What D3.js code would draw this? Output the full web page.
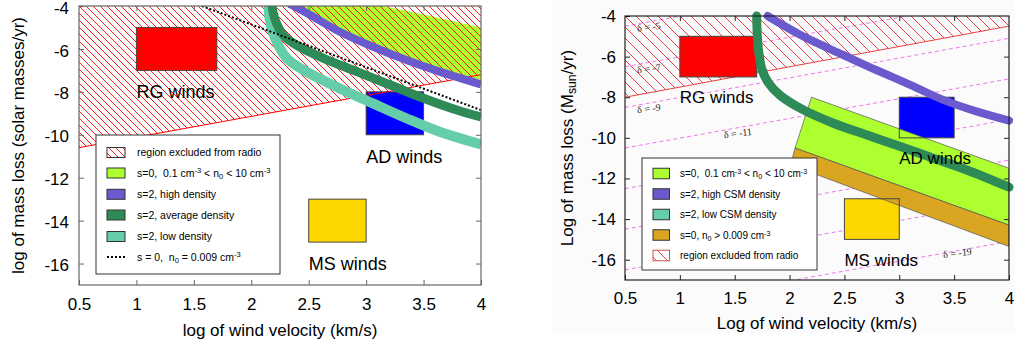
<!DOCTYPE html>
<html>
<head>
<meta charset="utf-8">
<script src="https://cdn.jsdelivr.net/npm/d3@7"></script>
<style>
	body { margin: 0; background: #fff; }
	svg { display: block; font-family: 'Liberation Sans', Arial, Helvetica, sans-serif; }
	text { white-space: pre; }
</style>
</head>
<body>
<svg id="chart" width="1015" height="347"></svg>
<script>

// axis ticks, shared by both panels (log wind velocity, log mass loss)
const velTicks = [0.5, 1, 1.5, 2, 2.5, 3, 3.5, 4];
const lossTicks = [-4, -6, -8, -10, -12, -14, -16];

// wind regimes
const regimeNames = ['RG winds', 'AD winds', 'MS winds'];
const regimeVel = [[1, 1.7], [3, 3.5], [2.5, 3]];
const regimeLoss = [[-5, -7], [-8, -10], [-13, -15]];
const regimeLabelLoss = [-8, -11, -16];

// region excluded from radio: lower edge, read at v = 0.5 and v = 4
const excludedVel = [0.5, 4];
const leftExcludedLoss = [-10.6, -7.2];
const rightExcludedLoss = [-8, -4.5];

// left panel curves [log v, log Mdot]
const leftHigh = [[2.33, -3.9], [2.37, -4], [2.54, -4.5], [2.77, -5.2], [3.06, -5.9], [3.35, -6.52], [3.64, -7.06], [4.0, -7.65]];
const leftAverage = [[2.18, -3.9], [2.19, -4.3], [2.22, -4.81], [2.29, -5.43], [2.42, -5.9], [2.63, -6.44], [2.92, -7.06], [3.21, -7.68], [3.5, -8.3], [3.79, -8.85], [4.0, -9.17]];
const leftLow = [[2.15, -3.9], [2.16, -4.6], [2.2, -5.4], [2.31, -6.44], [2.48, -7.06], [2.77, -7.84], [3.06, -8.54], [3.35, -9.23], [3.64, -9.86], [4.0, -10.45]];
const leftDotted = [[1.57, -4], [4.0, -8.85]];
const leftUniformUpper = [[2.23, -4], [3.15, -4], [3.5, -4.4], [3.75, -4.7], [4.0, -5.0]];
const leftUniformLower = [[2.3, -4], [2.54, -4.45], [2.77, -5.1], [3.06, -5.8], [3.35, -6.4], [3.64, -6.95], [4.0, -7.45]];

// right panel curves and bands
const rightHigh = [[1.8, -4], [1.93, -4.42], [2.07, -4.85], [2.19, -5.18], [2.49, -5.92], [2.79, -6.66], [3.1, -7.39], [3.4, -8.13], [3.71, -8.71], [4.0, -9.15]];
const rightLow = [[1.7, -4], [1.705, -4.85], [1.72, -5.83], [1.75, -6.66], [1.81, -7.31], [1.91, -7.89], [2.1, -8.55], [2.4, -9.28], [2.7, -9.85], [3.01, -10.43], [3.31, -11.0], [3.61, -11.57], [4.0, -12.43]];
const rightUniformBand = [[2.2, -8], [4.0, -11.5], [4.0, -14.3], [2.05, -10.5]];
const rightDenseBand = [[2.05, -10.5], [4.0, -14.3], [4.0, -15.35], [2.01, -11.33]];

// delta lines, read at v = 0.5 and v = 4
const deltaValues = [-5, -7, -9, -11, -13, -15, -17, -19];
const deltaLossAtLeft = [-4.5, -6.5, -8.5, -10.5, -12.5, -14.5, -16.5, -18.5];
const deltaLossAtRight = [-1.1, -3.1, -5.1, -7.1, -9.1, -11.1, -13.1, -15.1];
const deltaLabelValues = [-5, -7, -9, -11, -19];
const deltaLabelVel = [0.61, 0.61, 0.61, 1.4, 3.4];
const deltaLabelLoss = [-4.6, -6.66, -8.62, -9.85, -15.75];

// legends (gnuplot style markup: ^{} super, _{} sub)
const leftLegendKeys = ['hatch', 'uniform', 'high', 'average', 'low', 'dotted'];
const leftLegendLabels = ['region excluded from radio', 's=0,  0.1 cm^{-3} < n_{0} < 10 cm^{-3}', 's=2, high density', 's=2, average density', 's=2, low density', 's = 0,  n_{0} = 0.009 cm^{-3}'];
const rightLegendKeys = ['uniform', 'high', 'low', 'dense', 'hatch'];
const rightLegendLabels = ['s=0,  0.1 cm^{-3} < n_{0} < 10 cm^{-3}', 's=2, high CSM density', 's=2, low CSM density', 's=0, n_{0} > 0.009 cm^{-3}', 'region excluded from radio'];


window.app = window.app || {};

window.app.windChart = (function() {

	'use strict';

	var svg,
		defs,
		colors = {
			uniform: '#adff2f',
			high: '#6a5acd',
			average: '#2e8b57',
			low: '#66cdaa',
			dense: '#daa520',
			regimes: ['#ff0000', '#0000ff', '#ffd700'],
			delta: '#ee77ee'
		},
		panels = {
			left: {
				left: 79, top: 6, width: 402, height: 279,
				frame: '#666', padX: 13, padY: 10, tickDy: '0.42em',
				hatchId: 'hatchLeft', hatchStep: 7, hatchColor: '#ff0000',
				titleX: 336, titleY: 18, labelSize: 18, legendSize: 10.5,
				legend: { x: 96, y: 135, w: 184, h: 139, swX: 11, swW: 18, swH: 10, textX: 41, rows: [17.5, 38, 59.3, 80, 101.5, 122] }
			},
			right: {
				left: 625, top: 16, width: 384, height: 264,
				frame: '#222', padX: 12, padY: 9, tickDy: '0.32em',
				hatchId: 'hatchRight', hatchStep: 11, hatchColor: '#e82a2a',
				titleX: 329, titleY: 567, labelSize: 17, legendSize: 10,
				legend: { x: 642, y: 158, w: 175, h: 112, swX: 11, swW: 16.5, swH: 10.5, textX: 38, rows: [15.5, 36, 56.5, 77, 97.5] }
			}
		};


	/**
	* write text with gnuplot style ^{..} and _{..} into tspans
	* @returns {undefined}
	*/
	const appendRich = function(textSel, str) {
		let re = /([\^_])\{([^}]*)\}/g,
			last = 0,
			m;

		while ((m = re.exec(str)) !== null) {
			if (m.index > last) {
				textSel.append('tspan').text(str.slice(last, m.index));
			}
			textSel.append('tspan')
				.attr('baseline-shift', m[1] === '^' ? '45%' : '-25%')
				.attr('font-size', '72%')
				.text(m[2]);
			last = re.lastIndex;
		}
		if (last < str.length) {
			textSel.append('tspan').text(str.slice(last));
		}
	};


	/**
	* one diagonal hatch pattern (top-left to bottom-right), integer tile
	* so the 1px lines stay sharp like gnuplot output
	* @returns {undefined}
	*/
	const addHatch = function(id, step, color) {
		let s = step;
		defs.append('pattern')
			.attr('id', id)
			.attr('patternUnits', 'userSpaceOnUse')
			.attr('width', s)
			.attr('height', s)
			.append('path')
			.attr('d', 'M0,0L' + s + ',' + s + 'M-1,' + (s - 1) + 'L1,' + (s + 1) + 'M' + (s - 1) + ',-1L' + (s + 1) + ',1')
			.attr('stroke', color)
			.attr('stroke-width', 0.9)
			.attr('fill', 'none');
	};


	/**
	* create panel group, scales and clip
	* @returns {object}
	*/
	const createPanel = function(name) {
		let p = panels[name];

		defs.append('clipPath').attr('id', 'clip-' + name)
			.append('rect').attr('width', p.width).attr('height', p.height);

		let g = svg.append('g')
			.attr('transform', 'translate(' + p.left + ',' + p.top + ')');

		return {
			p: p,
			g: g,
			x: d3.scaleLinear().domain([0.5, 4]).range([0, p.width]),
			y: d3.scaleLinear().domain([-17, -4]).range([p.height, 0]),
			clip: 'url(#clip-' + name + ')'
		};
	};


	/**
	* axes with inward ticks on all four sides plus frame and titles
	* @returns {undefined}
	*/
	const drawAxes = function(c, xTitle, yTitle) {
		let p = c.p,
			fmt = function(d) { return String(d); };

		let styleAxis = function(sel) {
			sel.select('.domain').remove();
			sel.selectAll('line').attr('stroke', p.frame);
			sel.selectAll('text').attr('fill', '#000').attr('font-size', 17)
				.attr('font-family', "'Liberation Sans', Arial, sans-serif");
		};

		c.g.append('g')
			.attr('class', 'axis axis--x')
			.attr('transform', 'translate(0,' + p.height + ')')
			.call(d3.axisBottom(c.x).tickValues(velTicks).tickSize(-5).tickPadding(p.padX).tickFormat(fmt))
			.call(styleAxis);

		c.g.append('g')
			.attr('class', 'axis axis--y')
			.call(d3.axisLeft(c.y).tickValues(lossTicks).tickSize(-5).tickPadding(p.padY).tickFormat(fmt))
			.call(styleAxis)
			.selectAll('text').attr('dy', p.tickDy);

		c.g.append('g')
			.call(d3.axisTop(c.x).tickValues(velTicks.slice(1, -1)).tickSize(-5).tickFormat(''))
			.call(styleAxis);

		c.g.append('g')
			.attr('transform', 'translate(' + p.width + ',0)')
			.call(d3.axisRight(c.y).tickValues(lossTicks.slice(1)).tickSize(-5).tickFormat(''))
			.call(styleAxis);

		c.g.append('rect')
			.attr('width', p.width)
			.attr('height', p.height)
			.attr('fill', 'none')
			.attr('stroke', p.frame)
			.attr('stroke-width', 1.2);

		// titles, in page coords
		let xt = svg.append('text')
			.attr('x', p.left + p.width / 2)
			.attr('y', p.titleX)
			.attr('text-anchor', 'middle')
			.attr('font-size', 17);
		appendRich(xt, xTitle);

		let yt = svg.append('text')
			.attr('transform', 'translate(' + p.titleY + ',' + (p.top + p.height / 2) + ') rotate(-90)')
			.attr('text-anchor', 'middle')
			.attr('dy', '0.35em')
			.attr('font-size', 17);
		appendRich(yt, yTitle);
	};


	/**
	* hatched region excluded from radio
	* @returns {undefined}
	*/
	const drawExcluded = function(c, edgeLoss, lineColor) {
		let pts = [[excludedVel[0], -4], [excludedVel[1], -4], [excludedVel[1], edgeLoss[1]], [excludedVel[0], edgeLoss[0]]];

		c.g.append('path')
			.attr('clip-path', c.clip)
			.attr('d', d3.line().x(d => c.x(d[0])).y(d => c.y(d[1])).curve(d3.curveLinearClosed)(pts))
			.attr('fill', 'url(#' + c.p.hatchId + ')');

		c.g.append('line')
			.attr('x1', c.x(excludedVel[0])).attr('y1', c.y(edgeLoss[0]))
			.attr('x2', c.x(excludedVel[1])).attr('y2', c.y(edgeLoss[1]))
			.attr('stroke', lineColor)
			.attr('stroke-width', 1);
	};


	/**
	* wind regime boxes; mode 'full' = fill and outline, 'fill', 'outline'
	* @returns {undefined}
	*/
	const drawRegimes = function(c, mode) {
		c.g.append('g')
			.selectAll('rect')
			.data(regimeNames)
			.enter()
			.append('rect')
			.attr('x', (d, i) => c.x(regimeVel[i][0]))
			.attr('width', (d, i) => c.x(regimeVel[i][1]) - c.x(regimeVel[i][0]))
			.attr('y', (d, i) => c.y(regimeLoss[i][0]))
			.attr('height', (d, i) => c.y(regimeLoss[i][1]) - c.y(regimeLoss[i][0]))
			.attr('fill', mode === 'outline' ? 'none' : (d, i) => colors.regimes[i])
			.attr('stroke', mode === 'fill' ? 'none' : '#444')
			.attr('stroke-width', 1);
	};


	const drawRegimeLabels = function(c) {
		c.g.append('g')
			.selectAll('text')
			.data(regimeNames)
			.enter()
			.append('text')
			.attr('x', (d, i) => c.x(regimeVel[i][0]))
			.attr('y', (d, i) => c.y(regimeLabelLoss[i]))
			.attr('dy', '0.36em')
			.attr('font-size', c.p.labelSize)
			.text(d => d);
	};


	/**
	* thick curve through read points
	* @returns {undefined}
	*/
	const drawCurve = function(c, pts, color, width, cap, clipped) {
		let line = d3.line()
			.x(d => c.x(d[0]))
			.y(d => c.y(d[1]))
			.curve(d3.curveCatmullRom.alpha(0.5));

		c.g.append('path')
			.attr('clip-path', clipped ? c.clip : null)
			.attr('d', line(pts))
			.attr('fill', 'none')
			.attr('stroke', color)
			.attr('stroke-width', width)
			.attr('stroke-linecap', cap)
			.attr('stroke-linejoin', 'round');
	};


	const drawPolygon = function(c, pts, fill, stroke) {
		c.g.append('path')
			.attr('clip-path', c.clip)
			.attr('d', d3.line().x(d => c.x(d[0])).y(d => c.y(d[1])).curve(d3.curveLinearClosed)(pts))
			.attr('fill', fill)
			.attr('stroke', stroke || 'none')
			.attr('stroke-width', 0.7);
	};


	/**
	* legend box with swatches
	* @returns {undefined}
	*/
	const drawLegendBox = function(c) {
		let L = c.p.legend;
		svg.append('rect')
			.attr('x', L.x).attr('y', L.y)
			.attr('width', L.w).attr('height', L.h)
			.attr('fill', '#fff')
			.attr('stroke', '#333')
			.attr('stroke-width', 1);
	};

	const drawLegendItems = function(c, keys, labels) {
		let L = c.p.legend,
			g = svg.append('g').attr('transform', 'translate(' + L.x + ',' + L.y + ')');

		keys.forEach(function(key, i) {
			let cy = L.rows[i];

			if (key === 'dotted') {
				g.append('line')
					.attr('x1', L.swX).attr('x2', L.swX + L.swW)
					.attr('y1', cy).attr('y2', cy)
					.attr('stroke', '#000')
					.attr('stroke-width', 2)
					.attr('stroke-dasharray', '2,2');
			} else {
				g.append('rect')
					.attr('x', L.swX).attr('y', cy - L.swH / 2)
					.attr('width', L.swW).attr('height', L.swH)
					.attr('fill', key === 'hatch' ? 'url(#' + c.p.hatchId + ')' : colors[key])
					.attr('stroke', key === 'hatch' && c.p.hatchId === 'hatchRight' ? '#c55' : '#333')
					.attr('stroke-width', 1);
			}

			let t = g.append('text')
				.attr('x', L.textX)
				.attr('y', cy)
				.attr('dy', '0.35em')
				.attr('font-size', c.p.legendSize);
			appendRich(t, labels[i]);
		});
	};


	/**
	* left panel
	* @returns {undefined}
	*/
	const drawLeft = function() {
		let c = createPanel('left');

		drawRegimes(c, 'full');
		drawPolygon(c, leftUniformUpper.concat(leftUniformLower.slice().reverse()), colors.uniform);
		drawExcluded(c, leftExcludedLoss, '#ff0000');

		drawCurve(c, leftLow, colors.low, 10, 'butt', true);
		drawCurve(c, leftAverage, colors.average, 9, 'butt', true);
		drawCurve(c, leftHigh, colors.high, 8, 'butt', true);

		c.g.append('line')
			.attr('clip-path', c.clip)
			.attr('x1', c.x(leftDotted[0][0])).attr('y1', c.y(leftDotted[0][1]))
			.attr('x2', c.x(leftDotted[1][0])).attr('y2', c.y(leftDotted[1][1]))
			.attr('stroke', '#000')
			.attr('stroke-width', 2)
			.attr('stroke-dasharray', '2,2');

		drawRegimeLabels(c);
		drawLegendBox(c);
		drawLegendItems(c, leftLegendKeys, leftLegendLabels);
		drawAxes(c, 'log of wind velocity (km/s)', 'log of mass loss (solar masses/yr)');
	};


	/**
	* right panel
	* @returns {undefined}
	*/
	const drawRight = function() {
		// faint scan background of the right figure
		svg.append('rect')
			.attr('x', 552).attr('y', 0)
			.attr('width', 463).attr('height', 333)
			.attr('fill', '#fbfbfb');

		let c = createPanel('right');

		// delta lines
		c.g.append('g')
			.attr('clip-path', c.clip)
			.selectAll('line')
			.data(deltaValues)
			.enter()
			.append('line')
			.attr('x1', c.x(excludedVel[0]))
			.attr('x2', c.x(excludedVel[1]))
			.attr('y1', (d, i) => c.y(deltaLossAtLeft[i]))
			.attr('y2', (d, i) => c.y(deltaLossAtRight[i]))
			.attr('stroke', colors.delta)
			.attr('stroke-width', 1)
			.attr('stroke-dasharray', '4,3');

		drawExcluded(c, rightExcludedLoss, '#e84040');

		c.g.append('g')
			.selectAll('text')
			.data(deltaLabelValues)
			.enter()
			.append('text')
			.attr('transform', (d, i) => 'translate(' + c.x(deltaLabelVel[i]) + ',' + c.y(deltaLabelLoss[i]) + ') rotate(-7)')
			.attr('dy', '0.35em')
			.attr('font-family', "'Liberation Serif', 'DejaVu Serif', serif")
			.attr('font-size', 10)
			.attr('fill', '#222')
			.text(d => '\u03b4 = ' + d);

		drawRegimes(c, 'fill');
		drawLegendBox(c);

		drawPolygon(c, rightUniformBand, colors.uniform, '#555');
		drawPolygon(c, rightDenseBand, colors.dense, '#555');
		drawRegimes(c, 'outline');

		drawCurve(c, rightLow, colors.average, 9, 'round', false);
		drawCurve(c, rightHigh, colors.high, 8, 'round', false);

		drawRegimeLabels(c);
		drawLegendItems(c, rightLegendKeys, rightLegendLabels);
		drawAxes(c, 'Log of wind velocity (km/s)', 'Log of mass loss (M_{sun}/yr)');
	};


	const drawChart = function(selector) {
		svg = d3.select(selector);
		defs = svg.append('defs');

		addHatch(panels.left.hatchId, panels.left.hatchStep, panels.left.hatchColor);
		addHatch(panels.right.hatchId, panels.right.hatchStep, panels.right.hatchColor);

		drawLeft();
		drawRight();
	};

	return {
		drawChart
	};

})();

window.app.windChart.drawChart('#chart');
</script>
</body>
</html>
